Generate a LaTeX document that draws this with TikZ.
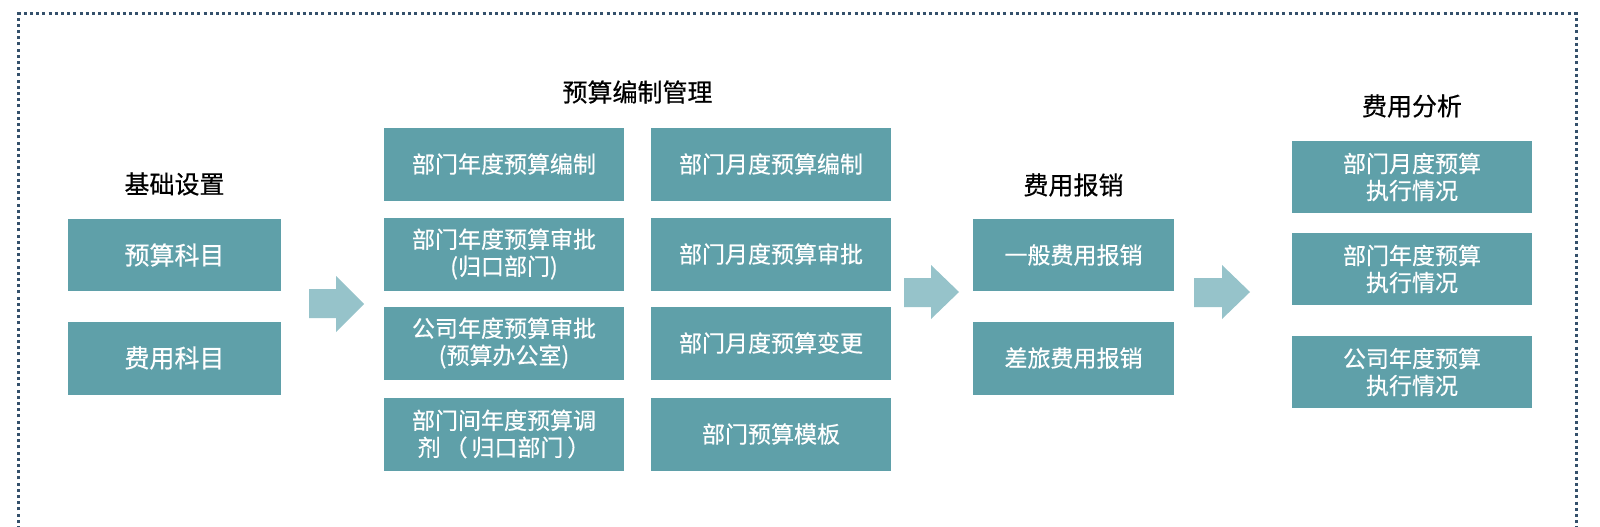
\documentclass[tikz,border=0pt]{standalone}
\usepackage{fontspec}
\newfontfamily\cjk[FakeBold=0.5]{Noto Sans CJK SC}
\definecolor{boxfill}{HTML}{5FA0A9}
\definecolor{arrowfill}{HTML}{96C3CA}
\definecolor{frameclr}{HTML}{34506B}
\tikzset{
  box/.style={fill=boxfill, text=white, inner sep=0pt, align=center,
    font=\cjk\fontsize{23}{27}\selectfont},
  bigbox/.style={box, font=\cjk\fontsize{25}{30}\selectfont},
  title/.style={text=black, inner sep=0pt, font=\cjk\fontsize{25}{30}\selectfont},
  blockarrow/.style={fill=arrowfill, draw=none},
  frame/.style={draw=frameclr, line width=3pt, dash pattern=on 3pt off 3.2pt}
}
\begin{document}
\begin{tikzpicture}[x=1pt,y=-1pt]
\clip (0,0) rectangle (1600,527);
\useasboundingbox (0,0) rectangle (1600,527);
\fill[white] (0,0) rectangle (1600,527);
% frame (bottom edge is outside the picture)
\draw[frame] (18,560) -- (18,14) -- (1576,14) -- (1576,560);

% column 1
\node[title] (t1) at (174.5,184) {基础设置};
\node[bigbox, minimum width=213pt, minimum height=72pt] (b11) at (174.5,255) {预算科目};
\node[bigbox, minimum width=213pt, minimum height=73pt] (b12) at (174.5,358) {费用科目};

% column 2
\node[title] (t2) at (637.5,92) {预算编制管理};
\node[box, minimum width=240pt, minimum height=73pt] (a1) at (504,164) {部门年度预算编制};
\node[box, minimum width=240pt, minimum height=73pt] (a2) at (504,254) {部门年度预算审批\\(归口部门)};
\node[box, minimum width=240pt, minimum height=73pt] (a3) at (504,343) {公司年度预算审批\\(预算办公室)};
\node[box, minimum width=240pt, minimum height=73pt] (a4) at (504,434) {部门间年度预算调\\剂\,（\,归口部门\,）};
\node[box, minimum width=240pt, minimum height=73pt] (c1) at (771,164) {部门月度预算编制};
\node[box, minimum width=240pt, minimum height=73pt] (c2) at (771,254) {部门月度预算审批};
\node[box, minimum width=240pt, minimum height=73pt] (c3) at (771,343) {部门月度预算变更};
\node[box, minimum width=240pt, minimum height=73pt] (c4) at (771,434) {部门预算模板};

% column 3
\node[title] (t3) at (1073.5,185) {费用报销};
\node[box, minimum width=201pt, minimum height=72pt] (d1) at (1073.5,255) {一般费用报销};
\node[box, minimum width=201pt, minimum height=73pt] (d2) at (1073.5,358) {差旅费用报销};

% column 4
\node[title] (t4) at (1412,106) {费用分析};
\node[box, minimum width=240pt, minimum height=72pt] (e1) at (1412,177) {部门月度预算\\执行情况};
\node[box, minimum width=240pt, minimum height=72pt] (e2) at (1412,269) {部门年度预算\\执行情况};
\node[box, minimum width=240pt, minimum height=72pt] (e3) at (1412,372) {公司年度预算\\执行情况};

% block arrows between the groups
\fill[blockarrow] (309,289) -- (336,289) -- (336,276) -- (364,304) -- (336,332) -- (336,318) -- (309,318) -- cycle;
\fill[blockarrow] (904,278) -- (931,278) -- (931,265) -- (959,292) -- (931,319) -- (931,307) -- (904,307) -- cycle;
\fill[blockarrow] (1194,278) -- (1222,278) -- (1222,265) -- (1250,292) -- (1222,319) -- (1222,307) -- (1194,307) -- cycle;
\end{tikzpicture}
\end{document}
